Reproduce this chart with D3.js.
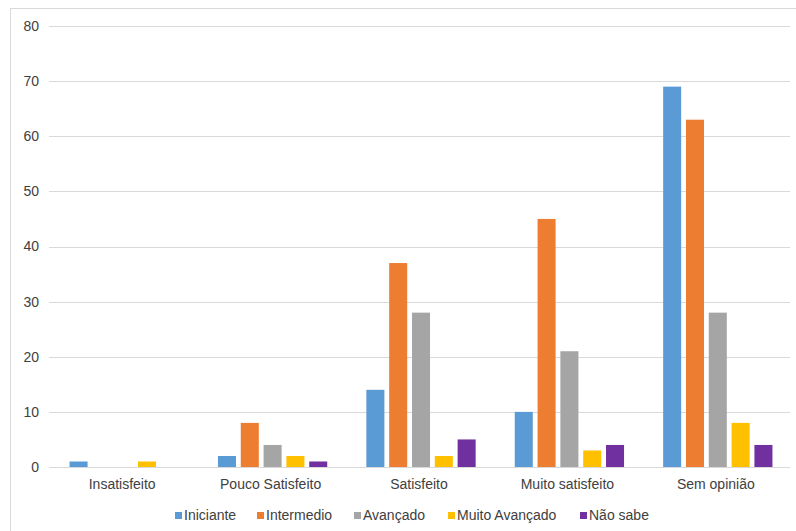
<!DOCTYPE html>
<html><head><meta charset="utf-8">
<script src="https://cdn.jsdelivr.net/npm/d3@7"></script>
<style>body{margin:0;background:#fff}svg{display:block;font-family:"Liberation Sans",Arial,sans-serif}</style>
</head><body><svg id="c" width="796" height="531"></svg>
<script>
const categories = ["Insatisfeito","Pouco Satisfeito","Satisfeito","Muito satisfeito","Sem opinião"];
const seriesNames = ["Iniciante","Intermedio","Avançado","Muito Avançado","Não sabe"];
const colors = ["#5B9BD5","#ED7D31","#A5A5A5","#FFC000","#7030A0"];
const iniciante = [1,2,14,10,69];
const intermedio = [0,8,37,45,63];
const avancado = [0,4,28,21,28];
const muitoAvancado = [1,2,2,3,8];
const naoSabe = [0,1,5,4,4];
const yTicks = [0,10,20,30,40,50,60,70,80];
const seriesValues = [iniciante,intermedio,avancado,muitoAvancado,naoSabe];

const svg = d3.select("#c");
svg.append("rect").attr("x",10.5).attr("y",8.5).attr("width",800).attr("height",540)
  .attr("fill","none").attr("stroke","#d9d9d9");

const x0 = d3.scaleBand().domain(categories).range([50,792]);
const x1 = d3.scaleBand().domain(seriesNames).range([0,x0.bandwidth()]).paddingInner(0.21).paddingOuter(0.857);
const y = d3.scaleLinear().domain([0,80]).range([467,26]);

const grid = svg.append("g");
grid.selectAll("line").data(yTicks).join("line")
  .attr("x1",49).attr("x2",790)
  .attr("y1",d=>Math.round(y(d))+0.5).attr("y2",d=>Math.round(y(d))+0.5)
  .attr("stroke","#d9d9d9").attr("stroke-width",1);

const yAxis = d3.axisLeft(y).tickValues(yTicks).tickSize(0).tickPadding(0);
const ga = svg.append("g").attr("transform","translate(39,0)").call(yAxis);
ga.select(".domain").remove();
ga.selectAll("text").attr("font-size",14).attr("fill","#404040").attr("font-family","Liberation Sans, Arial, sans-serif");

const groups = svg.append("g").selectAll("g").data(categories).join("g")
  .attr("transform",d=>`translate(${x0(d)},0)`);
groups.selectAll("rect").data((d,i)=>seriesNames.map((s,j)=>({s,v:seriesValues[j][i],c:colors[j]})))
  .join("rect")
  .attr("x",d=>x1(d.s)).attr("width",x1.bandwidth())
  .attr("y",d=>y(d.v)).attr("height",d=>y(0)-y(d.v))
  .attr("fill",d=>d.c);

const xAxis = d3.axisBottom(x0).tickSize(0).tickPadding(0);
const gx = svg.append("g").attr("transform","translate(-2,479)").call(xAxis);
gx.select(".domain").remove();
gx.selectAll("text").attr("font-size",14).attr("fill","#404040").attr("dy","0.71em").attr("font-family","Liberation Sans, Arial, sans-serif");

const legendX = [175,257,354,448,580];
const lg = svg.append("g").selectAll("g").data(seriesNames).join("g")
  .attr("transform",(d,i)=>`translate(${legendX[i]},512)`);
lg.append("rect").attr("width",7).attr("height",7).attr("y",0).attr("fill",(d,i)=>colors[i]);
lg.append("text").attr("x",9).attr("y",8).attr("font-size",14).attr("fill","#404040").text(d=>d);
</script></body></html>
